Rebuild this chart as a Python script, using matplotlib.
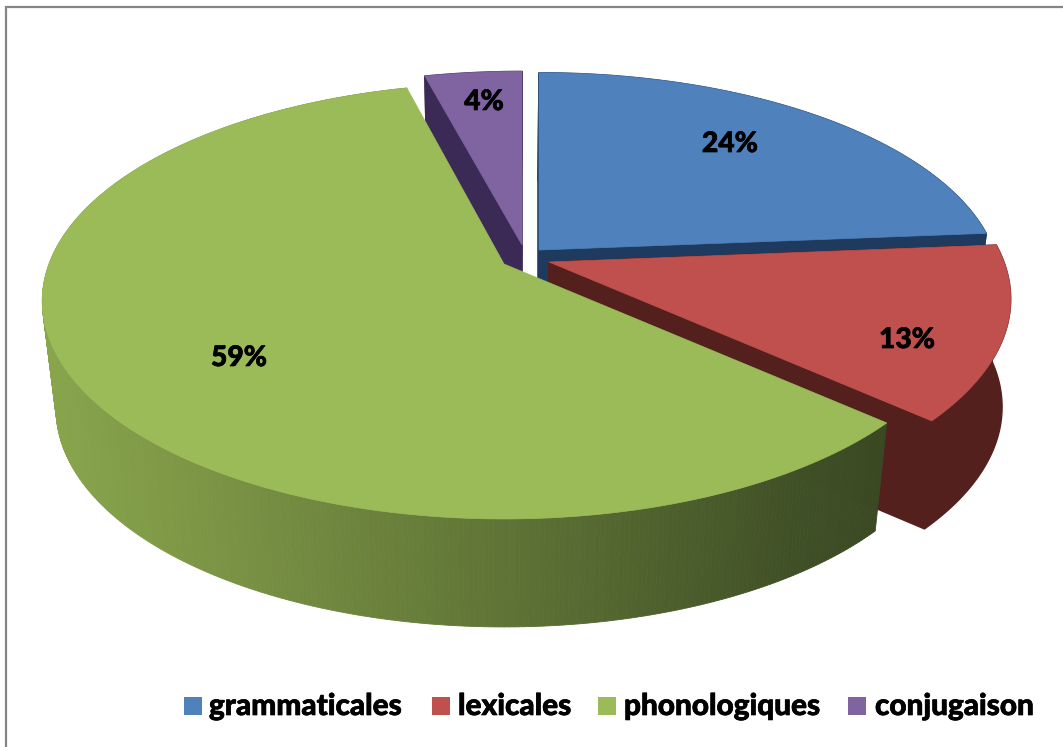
import numpy as np
import matplotlib
matplotlib.use("Agg")
import matplotlib.pyplot as plt
import matplotlib.patheffects as pe
from matplotlib.patches import Polygon, Rectangle

# --- data ---
categories = ["grammaticales", "lexicales", "phonologiques", "conjugaison"]
values = [23.7, 12.9, 59.4, 4.0]
value_labels = ["24%", "13%", "59%", "4%"]

# --- styling / layout ---
top_colors = ["#4f81bd", "#c0504d", "#9bbb59", "#8064a2"]
side_colors = ["#1f3a5f", "#54201e", None, "#3a2a55"]
apex = [(539, 250), (549, 262), (504, 264), (522, 245)]
depth_scale = [0.98, 1.0, 1.0, 0.96]
wall_shrink = [0.97, 0.983, 0.97, 0.97]
label_pos = [(730, 144), (907, 340), (239, 358), (484, 102)]
legend_swatch_x = [184, 432, 598, 848]
legend_text_x = [209, 458, 624, 875]
A, B, K = 455.0, 211.6, 0.17       # perspective ellipse
DEPTH, CX = 108.0, 503.0
green_x = [40, 200, 500, 800, 890]
green_rgb = np.array([[0x88, 0xa5, 0x4c], [0x7c, 0x95, 0x45], [0x5f, 0x74, 0x36],
                      [0x40, 0x50, 0x26], [0x3a, 0x49, 0x23]]) / 255

plt.rcParams["font.family"] = ["Lato", "DejaVu Sans"]
fig = plt.figure(figsize=(10.63, 7.47), dpi=100)
ax = fig.add_axes([0, 0, 1, 1])
ax.set_xlim(0, 1063)
ax.set_ylim(747, 0)
ax.axis("off")


def top_edge(ap, theta, rs):
    u, v = np.cos(theta), np.sin(theta)
    d = 1 + K * v
    return ap[0] + A * u / d, ap[1] - rs * B * v / d


def drop(x, y, shrink):
    return CX + shrink * (x - CX), y + DEPTH


# angles, clockwise from 12 o'clock
fracs = np.array(values) / sum(values)
ends = np.pi / 2 - 2 * np.pi * np.cumsum(fracs)
starts = np.concatenate([[np.pi / 2], ends[:-1]])

for i in [3, 0, 1, 2]:
    th = np.linspace(starts[i], ends[i], 400)
    x, y = top_edge(apex[i], th, depth_scale[i])
    lx, ly = drop(x, y, wall_shrink[i])
    ax_, ay_ = apex[i]
    dax, day = drop(ax_, ay_, wall_shrink[i])
    if i == 2:
        # outer wall with left-to-right shading
        for j in range(len(th) - 1):
            xm = 0.5 * (x[j] + x[j + 1])
            c = [np.interp(xm, green_x, green_rgb[:, k]) for k in range(3)]
            ax.add_patch(Polygon([(x[j], y[j]), (x[j + 1], y[j + 1]), (lx[j + 1], ly[j + 1]), (lx[j], ly[j])],
                                 closed=True, fc=c, ec=c, lw=0.6, zorder=3))
    else:
        z = [1, 2, 0, 0.5][i]
        # outer wall
        ax.add_patch(Polygon(np.r_[np.c_[x, y], np.c_[lx, ly][::-1]], closed=True,
                             fc=side_colors[i], ec=side_colors[i], lw=1, zorder=z))
        # radial walls
        for k in (0, -1):
            ax.add_patch(Polygon([(ax_, ay_), (x[k], y[k]), (lx[k], ly[k]), (dax, day)], closed=True,
                                 fc=side_colors[i], ec=side_colors[i], lw=1, zorder=z))
    # top face
    z = [1.2, 2.2, 3.2, 0.7][i]
    ax.add_patch(Polygon(np.r_[[(ax_, ay_)], np.c_[x, y]], closed=True,
                         fc=top_colors[i], ec=top_colors[i], lw=0.5, zorder=z))

heavy = [pe.withStroke(linewidth=0.5, foreground="black")]
for (lx0, ly0), s in zip(label_pos, value_labels):
    ax.text(lx0, ly0, s, ha="center", va="center", fontsize=20.3, fontweight="black",
            color="black", zorder=6, path_effects=heavy)

for name, c, sx, tx in zip(categories, top_colors, legend_swatch_x, legend_text_x):
    ax.add_patch(Rectangle((sx, 697), 18, 18, fc=c, ec="none", zorder=6))
    ax.text(tx, 706, name, ha="left", va="center", fontsize=21.4, fontweight="black",
            color="black", zorder=6, path_effects=heavy)

ax.plot([6, 6, 1063], [747, 6.5, 6.5], color="#858585", lw=1.6, solid_joinstyle="miter", zorder=7)

fig.savefig("out.png", dpi=100)
